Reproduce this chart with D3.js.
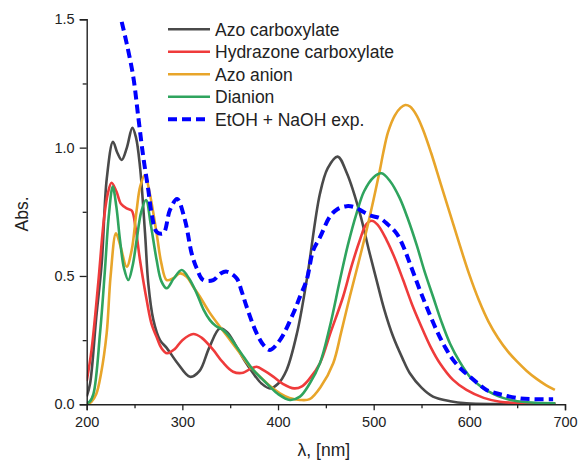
<!DOCTYPE html>
<html>
<head>
<meta charset="utf-8">
<script src="https://cdn.jsdelivr.net/npm/d3@7"></script>
<style>
  html, body { margin: 0; padding: 0; background: #fff; }
  svg { display: block; font-family: "Liberation Sans", Arial, sans-serif; }
</style>
</head>
<body>
<svg id="chart" width="578" height="463"></svg>
<script>
// ---------- DATA ----------
const seriesNames = ["Azo carboxylate", "Hydrazone carboxylate", "Azo anion", "Dianion", "EtOH + NaOH exp."];
const seriesColors = ["#4a4a4a", "#ef3b3b", "#e8a52a", "#2fa45e", "#0000ff"];

const azoCarbNm  = [200,203.5,210,215.7,221,227.5,232,236.6,242,247.7,251.5,255.7,261,264.4,269.6,276.6,283.6,295,308,318,328,339.3,347,356.7,365,373.8,383,391.5,400,409,420,430,443.8,452,462.3,472,485.6,495,503,511,520.4,530,537.8,550,562,580,597,630,690];
const azoCarbAbs = [0.03,0.08,0.34,0.55,0.88,1.023,0.98,0.952,1.0,1.077,1.04,0.926,0.666,0.47,0.33,0.25,0.22,0.16,0.107,0.13,0.22,0.296,0.28,0.224,0.17,0.122,0.08,0.062,0.08,0.134,0.28,0.484,0.82,0.92,0.965,0.9,0.744,0.6,0.484,0.37,0.263,0.18,0.121,0.065,0.03,0.012,0.004,0.001,0.0];

const hydCarbNm  = [200,205,212,218,222,226,231,236,241.8,247,251,255.7,262.7,268,273,278,284,292,300,311.4,320,332.3,342,353,363.6,371,377.6,386,395,405,417,425,433,443.8,455,468,477,485.6,492,497.8,504,513.5,522,530.8,540,548.3,560,569.2,583,597,615,632,660,690];
const hydCarbAbs = [0.09,0.21,0.47,0.72,0.82,0.863,0.83,0.78,0.763,0.755,0.69,0.562,0.406,0.31,0.263,0.22,0.199,0.215,0.25,0.274,0.26,0.212,0.165,0.127,0.123,0.138,0.146,0.13,0.108,0.08,0.062,0.07,0.1,0.16,0.28,0.419,0.54,0.64,0.7,0.715,0.7,0.64,0.57,0.484,0.39,0.316,0.22,0.16,0.095,0.056,0.025,0.01,0.004,0.002];

const azoAnionNm  = [200,205,210,215,220.9,225,230.6,235,241.8,247,252,256,260.9,266,273.1,278,283.6,290,297.5,304.5,311,318.4,328,339.3,350,360.2,370,381,392,402,412,422.9,433,445,457.7,466,475,484,492.6,500,506.5,510,515,522,528,533,538,545,551.8,560,570,580,590,600,610,620,630,640,650,660,670,680,689.4];
const azoAnionAbs = [0.0,0.01,0.04,0.12,0.277,0.5,0.666,0.62,0.536,0.6,0.75,0.85,0.893,0.82,0.666,0.55,0.484,0.49,0.51,0.497,0.46,0.419,0.36,0.302,0.25,0.199,0.15,0.108,0.07,0.043,0.025,0.017,0.02,0.07,0.16,0.28,0.419,0.55,0.679,0.8,0.913,0.98,1.06,1.125,1.155,1.166,1.16,1.125,1.068,0.98,0.86,0.74,0.62,0.505,0.405,0.322,0.258,0.207,0.166,0.13,0.1,0.075,0.056];

const dianionNm  = [200,203,207,214,219,223,227.2,231,234.8,239,243.5,248,252.2,257,262,267,273.1,278,283.6,291,299.3,307,315,322,328.8,335,342.7,350,356.7,365,374,383,391.5,400,412.4,422.9,433,443.8,454,464.7,473,482.1,490,500,508.2,517,527,536,545,553,562,571,580,590,600,610,620,630,642,660,690];
const dianionAbs = [0.005,0.01,0.04,0.28,0.52,0.73,0.848,0.77,0.64,0.53,0.484,0.54,0.64,0.75,0.796,0.7,0.562,0.48,0.452,0.49,0.523,0.49,0.432,0.37,0.328,0.305,0.289,0.26,0.224,0.18,0.134,0.1,0.069,0.04,0.017,0.03,0.08,0.16,0.3,0.484,0.62,0.744,0.83,0.885,0.9,0.87,0.805,0.72,0.62,0.52,0.42,0.32,0.235,0.165,0.11,0.075,0.05,0.032,0.018,0.008,0.004];

const expNm  = [236.6,241.8,248.7,253.9,259.1,264.4,268,273.1,280,287,294.5,302.7,309.7,315,321.8,332.3,340,346.3,356.7,362,367.2,377.6,385,391.5,402,415.9,422.9,429.9,436.8,443.8,454.2,462,471.7,480,489,497,506.5,515,523.9,531,537.8,548.3,555.3,565.7,575,583,592,600.5,610,618,627,635.3,652.8,670,687.6];
const expAbs = [1.49,1.406,1.276,1.12,0.965,0.835,0.74,0.672,0.666,0.757,0.8,0.718,0.588,0.53,0.484,0.484,0.51,0.517,0.491,0.44,0.38,0.277,0.23,0.212,0.25,0.354,0.419,0.484,0.6,0.65,0.731,0.76,0.772,0.768,0.75,0.735,0.725,0.7,0.666,0.615,0.549,0.445,0.38,0.289,0.22,0.173,0.135,0.108,0.078,0.056,0.044,0.036,0.023,0.02,0.02];

const xTickValues = [200, 300, 400, 500, 600, 700];
const xMinorTicks = [250, 350, 450, 550, 650];
const yTickValues = [0, 0.5, 1.0, 1.5];
const yTickLabels = ["0.0", "0.5", "1.0", "1.5"];
const yMinorTicks = [0.25, 0.75, 1.25];
const xTitle = "λ, [nm]";
const yTitle = "Abs.";

// ---------- BUILD ----------
(function () {
const seriesData = [
  [azoCarbNm, azoCarbAbs],
  [hydCarbNm, hydCarbAbs],
  [azoAnionNm, azoAnionAbs],
  [dianionNm, dianionAbs],
  [expNm, expAbs]
].map(([xs, ys], i) => ({
  name: seriesNames[i],
  color: seriesColors[i],
  dashed: i === 4,
  points: xs.map((xv, j) => ({x: xv, y: ys[j]}))
}));

const svg = d3.select("#chart");
const pL = 86.7, pR = 565, pT = 19.3, pB = 404.3;

const x = d3.scaleLinear().domain([200, 700]).range([pL, pR]);
const y = d3.scaleLinear().domain([0, 1.5]).range([pB, pT]);

svg.append("rect").attr("width", 578).attr("height", 463).attr("fill", "#fff");

svg.append("clipPath").attr("id", "plotclip")
  .append("rect").attr("x", pL).attr("y", pT - 2).attr("width", pR - pL).attr("height", pB - pT + 2);

const line = d3.line()
  .x(d => x(d.x))
  .y(d => y(d.y))
  .curve(d3.curveCatmullRom.alpha(0.5));

const plot = svg.append("g").attr("clip-path", "url(#plotclip)");
seriesData.forEach(s => {
  plot.append("path")
    .datum(s.points)
    .attr("fill", "none")
    .attr("stroke", s.color)
    .attr("stroke-width", s.dashed ? 4 : 2.6)
    .attr("stroke-dasharray", s.dashed ? "9,5" : null)
    .attr("stroke-linejoin", "round")
    .attr("d", line);
});

svg.append("g").attr("transform", `translate(0,${pB})`)
  .call(d3.axisBottom(x).tickValues(xTickValues).tickFormat(d3.format("d")).tickSize(6).tickPadding(6));
const xMinor = svg.append("g").attr("transform", `translate(0,${pB})`)
  .call(d3.axisBottom(x).tickValues(xMinorTicks).tickFormat("").tickSize(4));
xMinor.select(".domain").remove();

svg.append("g").attr("transform", `translate(${pL},0)`)
  .call(d3.axisLeft(y).tickValues(yTickValues).tickFormat((d, i) => yTickLabels[i]).tickSize(7).tickPadding(5));
const yMinor = svg.append("g").attr("transform", `translate(${pL},0)`)
  .call(d3.axisLeft(y).tickValues(yMinorTicks).tickFormat("").tickSize(4));
yMinor.select(".domain").remove();

svg.selectAll(".domain").attr("stroke", "#222").attr("stroke-width", 1.4);
svg.selectAll(".tick line").attr("stroke", "#222").attr("stroke-width", 1.3);
svg.selectAll(".tick text")
  .attr("font-family", "'Liberation Sans', Arial, sans-serif")
  .attr("font-size", 14.5).attr("fill", "#222");

svg.append("text")
  .attr("x", (pL + pR) / 2 - 2).attr("y", 456)
  .attr("text-anchor", "middle")
  .attr("font-size", 17.5).attr("fill", "#222")
  .text(xTitle);

svg.append("text")
  .attr("transform", "translate(28,214) rotate(-90)")
  .attr("text-anchor", "middle")
  .attr("font-size", 17.5).attr("fill", "#222")
  .text(yTitle);

const legend = svg.append("g");
seriesData.forEach((s, i) => {
  const ly = 29.3 + i * 22.5;
  legend.append("line")
    .attr("x1", 168).attr("x2", 210).attr("y1", ly).attr("y2", ly)
    .attr("stroke", s.color)
    .attr("stroke-width", s.dashed ? 4 : 2.6)
    .attr("stroke-dasharray", s.dashed ? "9,5" : null);
  legend.append("text")
    .attr("x", 215).attr("y", ly + 6.3)
    .attr("font-size", 17.5).attr("fill", "#222")
    .text(s.name);
});
})();
</script>
</body>
</html>
